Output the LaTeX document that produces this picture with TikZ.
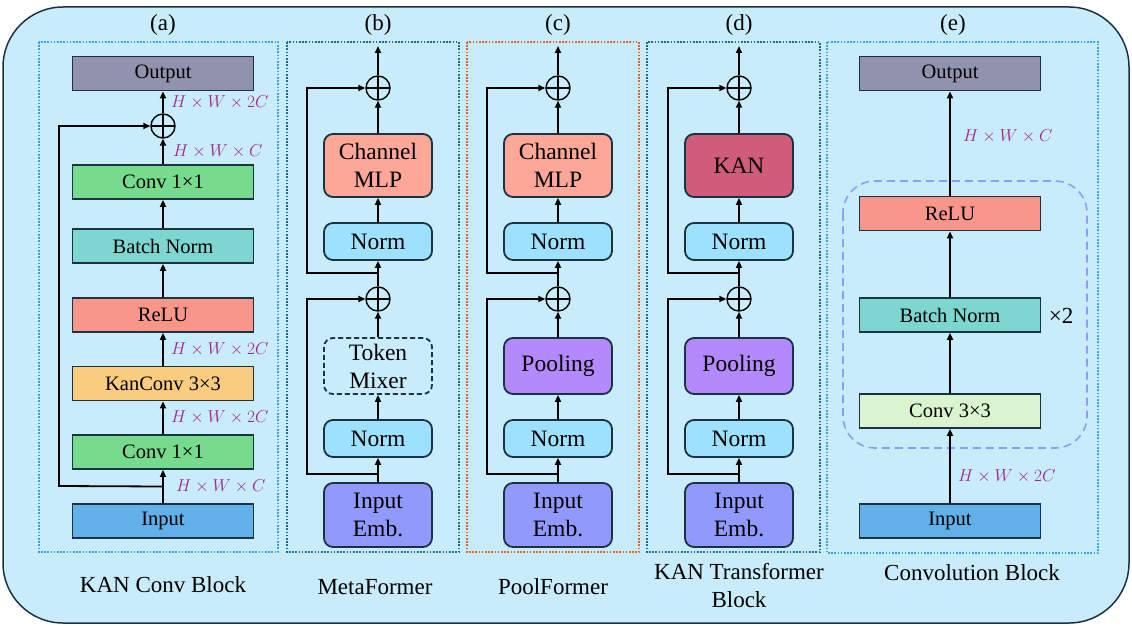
\documentclass[tikz,border=0pt]{standalone}
\usepackage{fontspec}
\setmainfont{Liberation Serif}
\usepackage{amsmath}
\usepackage{tikz}
\usetikzlibrary{shapes,arrows.meta,positioning,calc}

\definecolor{bgblue}{HTML}{C9ECFB}
\definecolor{edge}{HTML}{1B3242}
\definecolor{dotblue}{HTML}{3B9FE6}
\definecolor{dotteal}{HTML}{1C6C8C}
\definecolor{dotorange}{HTML}{E0642C}
\definecolor{outgray}{HTML}{9193AE}
\definecolor{convgreen}{HTML}{76DB8D}
\definecolor{bnteal}{HTML}{7DD7D0}
\definecolor{relured}{HTML}{F9968A}
\definecolor{kanorange}{HTML}{FACC80}
\definecolor{inblue}{HTML}{61B0EA}
\definecolor{mlpsalmon}{HTML}{FCA798}
\definecolor{normblue}{HTML}{9DE1FD}
\definecolor{embblue}{HTML}{9299FC}
\definecolor{poolpurple}{HTML}{B489FB}
\definecolor{kanred}{HTML}{CF5C78}
\definecolor{convlight}{HTML}{DBF4D0}
\definecolor{grpblue}{HTML}{8E9EF8}
\definecolor{dimpink}{HTML}{A3258E}

\tikzset{
  blk/.style={draw=edge, line width=1.8pt, minimum width=181pt, minimum height=34pt,
    inner sep=0pt, font=\fontsize{20.5}{23}\selectfont},
  rblk/.style={draw=edge, line width=1.8pt, rounded corners=9pt, minimum width=108pt,
    align=center, inner sep=0pt, font=\fontsize{23.5}{28}\selectfont},
  tokbox/.style={rblk, dash pattern=on 5pt off 3pt, minimum height=56pt},
  poolbox/.style={rblk, fill=poolpurple, minimum height=56pt},
  mlpbox/.style={rblk, fill=mlpsalmon, minimum height=63pt},
  kanbox/.style={rblk, fill=kanred, minimum height=63pt},
  addop/.style={circle, draw, line width=1.4pt, minimum size=24pt, inner sep=0pt,
    path picture={\draw[line width=1.4pt]
      (path picture bounding box.north) -- (path picture bounding box.south)
      (path picture bounding box.west) -- (path picture bounding box.east);}},
  flow/.style={-{Triangle[length=7pt,width=6pt]}, line width=1.8pt},
  dimlbl/.style={font=\fontsize{16}{18}\selectfont, text=dimpink, xshift=4pt},
  panel/.style={dash pattern=on 1.6pt off 1.6pt, line width=1.6pt},
  title/.style={font=\fontsize{23}{28}\selectfont, align=center}
}

\begin{document}
\begin{tikzpicture}[x=1pt,y=-1pt]
  \useasboundingbox (0,0) rectangle (1132,626);
  % outer frame
  \draw[draw=edge, line width=1.5pt, fill=bgblue, rounded corners=60pt] (3,7) rectangle (1129,623);
  % dotted panels
  \draw[panel, draw=dotblue] (39,42) rectangle (278,552);
  \draw[panel, draw=dotteal] (287,42) rectangle (459,552);
  \draw[panel, draw=dotorange] (467,42) rectangle (639,552);
  \draw[panel, draw=dotteal] (647,42) rectangle (820,552);
  \draw[panel, draw=dotblue] (827,42) rectangle (1098,553);
  \foreach \t/\x in {a/163,b/378,c/558,d/739,e/953}
    \node[title] (tag-\t) at (\x,25) {(\t)};

  % (a) KAN conv block
  \node[blk, fill=outgray] (a-out) at (163,73.5) {Output};
  \node[addop] (a-add) at (163,126) {};
  \node[blk, fill=convgreen] (a-conv2) at (163,182) {Conv 1×1};
  \node[blk, fill=bnteal] (a-bn) at (163,246) {Batch Norm};
  \node[blk, fill=relured] (a-relu) at (163,315) {ReLU};
  \node[blk, fill=kanorange] (a-kconv) at (163,383.5) {KanConv 3×3};
  \node[blk, fill=convgreen] (a-conv1) at (163,452) {Conv 1×1};
  \node[blk, fill=inblue] (a-in) at (163,521) {Input};
  \coordinate (a-bend) at (59,486);
  \draw[flow] (a-in) -- node[dimlbl,right,xshift=5pt]{$H\times W\times C$}
    coordinate[pos=0.5] (a-split) (a-conv1);
  \draw[flow] (a-conv1) -- node[dimlbl,right]{$H\times W\times 2C$} (a-kconv);
  \draw[flow] (a-kconv) -- node[dimlbl,right]{$H\times W\times 2C$} (a-relu);
  \draw[flow] (a-relu) -- (a-bn);
  \draw[flow] (a-bn) -- (a-conv2);
  \draw[flow] (a-conv2) -- node[dimlbl,right,xshift=2pt]{$H\times W\times C$} (a-add);
  \draw[flow] (a-add) -- node[dimlbl,right]{$H\times W\times 2C$} (a-out);
  \draw[flow] (a-split) -- (a-bend) |- (a-add);
  \node[title] (a-title) at (163,585) {KAN Conv Block};

  % (b) (c) (d) former blocks
  \foreach \p/\cx/\mixsty/\mixtxt/\topsty/\toptxt in {
      b/378/tokbox/{Token\\Mixer}/mlpbox/{Channel\\MLP},
      c/558/poolbox/{Pooling}/mlpbox/{Channel\\MLP},
      d/739/poolbox/{Pooling}/kanbox/{KAN}}{
    \node[rblk, fill=embblue, minimum height=64pt] (\p-emb) at (\cx,515) {Input\\Emb.};
    \node[rblk, fill=normblue, minimum height=37pt] (\p-norm1) at (\cx,438.5) {Norm};
    \node[\mixsty] (\p-mix) at (\cx,366) {\mixtxt};
    \node[addop] (\p-add1) at (\cx,299) {};
    \node[rblk, fill=normblue, minimum height=37pt] (\p-norm2) at (\cx,241.5) {Norm};
    \node[\topsty] (\p-top) at (\cx,165.5) {\toptxt};
    \node[addop] (\p-add2) at (\cx,88) {};
    \coordinate (\p-end) at (\cx,46);
    \coordinate (\p-split1) at (\cx,474);
    \coordinate (\p-split2) at (\cx,273);
    \coordinate (\p-bend1) at (\cx-71,474);
    \coordinate (\p-bend2) at (\cx-71,273);
    \draw[flow] (\p-emb) -- (\p-norm1);
    \draw[flow] (\p-norm1) -- (\p-mix);
    \draw[flow] (\p-mix) -- (\p-add1);
    \draw[flow] (\p-add1) -- (\p-norm2);
    \draw[flow] (\p-norm2) -- (\p-top);
    \draw[flow] (\p-top) -- (\p-add2);
    \draw[flow] (\p-add2) -- (\p-end);
    \draw[flow] (\p-split1) -- (\p-bend1) |- (\p-add1);
    \draw[flow] (\p-split2) -- (\p-bend2) |- (\p-add2);
  }
  \node[title] (b-title) at (375,587) {MetaFormer};
  \node[title] (c-title) at (553,587) {PoolFormer};
  \node[title] (d-title) at (739,586) {KAN Transformer\\Block};

  % (e) convolution block
  \draw[draw=grpblue, line width=1.6pt, dash pattern=on 8pt off 5pt, rounded corners=32pt]
    (843,181) rectangle (1087,448);
  \node[blk, fill=outgray] (e-out) at (950,73.5) {Output};
  \node[blk, fill=relured] (e-relu) at (950,213.5) {ReLU};
  \node[blk, fill=bnteal] (e-bn) at (950,315) {Batch Norm};
  \node[blk, fill=convlight] (e-conv) at (950,411) {Conv 3×3};
  \node[blk, fill=inblue] (e-in) at (950,521) {Input};
  \node[title] (e-rep) at (1061,316) {×2};
  \draw[flow] (e-in) -- node[dimlbl,right,pos=0.36]{$H\times W\times 2C$} (e-conv);
  \draw[flow] (e-conv) -- (e-bn);
  \draw[flow] (e-bn) -- (e-relu);
  \draw[flow] (e-relu) -- node[dimlbl,right,pos=0.57,xshift=5pt]{$H\times W\times C$} (e-out);
  \node[title] (e-title) at (972,573) {Convolution Block};
\end{tikzpicture}
\end{document}
